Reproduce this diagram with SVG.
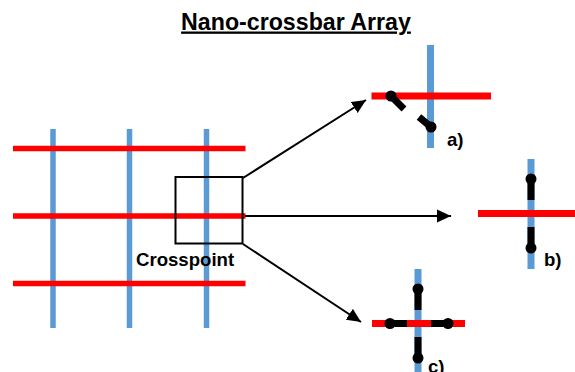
<svg xmlns="http://www.w3.org/2000/svg" width="575" height="372" viewBox="0 0 575 372">
<defs>
<marker id="arrow" markerUnits="userSpaceOnUse" markerWidth="16" markerHeight="14" refX="14" refY="7" orient="auto"><path d="M0 0.500L14 7L0 13.500Z" fill="#000"/></marker>
</defs>
<style>
.blue{stroke:#5b9bd5;stroke-width:7;fill:none}
.red{stroke:#f00;stroke-width:7;fill:none}
.thin{stroke-width:5.500}
.sw{stroke:#000;stroke-width:7;fill:none}
.dot{fill:#000}
.conn{stroke:#000;stroke-width:2;fill:none}
text{font-family:"Liberation Sans",Arial,sans-serif;font-weight:700;fill:#000}
.lab{font-size:18.600px}
</style>
<rect width="575" height="372" fill="#fff"/>
<text x="296" y="29.500" text-anchor="middle" font-size="23.200" text-decoration="underline">Nano-crossbar Array</text>
<g id="array">
<path class="blue thin" d="M53 129V328M129.500 129V328M206.500 129V328"/>
<path class="red thin" d="M13 148.500H245.500M13 216H245.500M13 283.500H245.500"/>
</g>
<g id="crosspoint-box"><rect x="175.500" y="177" width="67" height="66.500" fill="none" stroke="#000" stroke-width="2"/></g>
<g id="crosspoint-label"><text class="lab" x="136" y="265.500">Crosspoint</text></g>
<g id="connectors">
<path class="conn" marker-end="url(#arrow)" d="M243 178L366 100"/>
<path class="conn" marker-end="url(#arrow)" d="M245 216H451"/>
<path class="conn" marker-end="url(#arrow)" d="M243 244L361 322"/>
</g>
<g id="node-a">
<path class="blue" d="M430.500 45V148"/>
<path class="red" d="M371.500 96H491"/>
<path class="sw" d="M391 96L404 109M419 117L431 127"/>
<circle class="dot" cx="391" cy="96" r="5.500"/><circle class="dot" cx="431" cy="127" r="5.500"/>
<text class="lab" x="447" y="145.500">a)</text>
</g>
<g id="node-b">
<path class="blue" d="M531 159V269"/>
<path class="red" d="M478 213.500H575"/>
<path class="sw" d="M531 179V200M531 227V248"/>
<circle class="dot" cx="531" cy="179" r="5.500"/><circle class="dot" cx="531" cy="248" r="5.500"/>
<text class="lab" x="544" y="265.500">b)</text>
</g>
<g id="node-c">
<path class="blue" d="M418 269V372"/>
<path class="red" d="M372 323.500H465"/>
<path class="sw" d="M418 289V310M418 337V358M390 323.500H407M431 323.500H448"/>
<circle class="dot" cx="418" cy="289" r="5.500"/><circle class="dot" cx="418" cy="358" r="5.500"/><circle class="dot" cx="390" cy="323.500" r="5.500"/><circle class="dot" cx="448" cy="323.500" r="5.500"/>
<text class="lab" x="428" y="373">c)</text>
</g>
</svg>
